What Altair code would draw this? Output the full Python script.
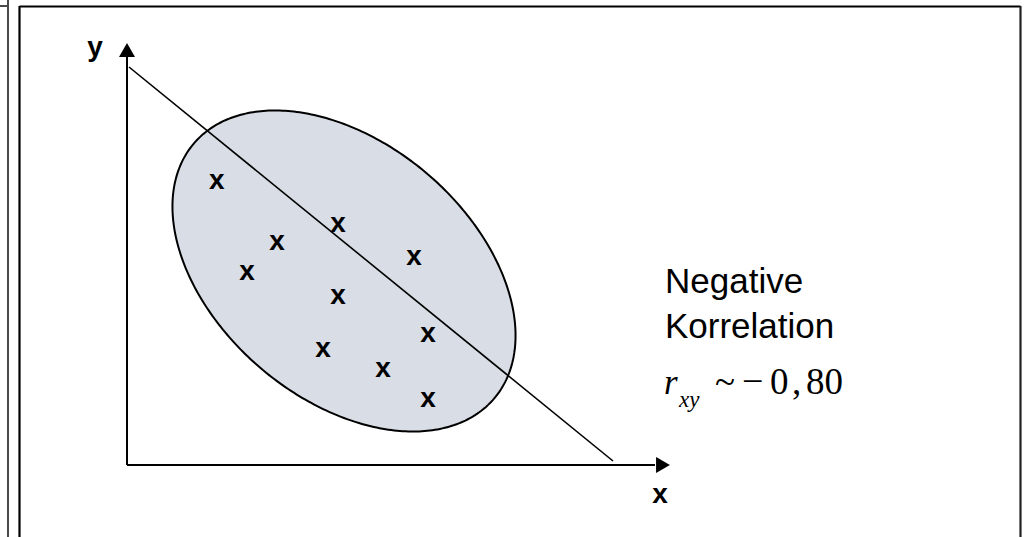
import altair as alt
import numpy as np
import pandas as pd

# Diagram units: origin at the axis corner, x to the right, y upwards (10 px per unit)
X_DOMAIN = [-12.7, 89.8]
Y_DOMAIN = [-7.2, 46.5]

# Observations drawn as "x" glyphs
obs_x = [8.97, 15.0, 12.0, 21.1, 28.7, 21.1, 30.1, 19.6, 25.6, 30.1]
obs_y = [28.33, 22.2, 19.2, 24.0, 20.7, 16.8, 13.0, 11.5, 9.5, 6.5]

# Regression line end points
line_x = [0.2, 48.6]
line_y = [39.8, 0.4]

# Axis extents and arrow-head positions
axis_x_end = 52.8
axis_y_end = 40.8
arrow_x = [53.6]
arrow_y = [41.5]

# Scatter ellipse: centre, semi-axes, tilt (degrees)
ell_center = (21.7, 19.4)
ell_axes = (19.7, 12.8)
ell_angle = -40.3

xs = alt.Scale(domain=X_DOMAIN, nice=False, zero=False)
ys = alt.Scale(domain=Y_DOMAIN, nice=False, zero=False)


def ellipse_band(center, axes, angle_deg, n=181):
    """Upper and lower boundary of a tilted ellipse for every x."""
    a, b = axes
    th = np.radians(angle_deg)
    c, s = np.cos(th), np.sin(th)
    sxx = a * a * c * c + b * b * s * s
    syy = a * a * s * s + b * b * c * c
    sxy = (a * a - b * b) * s * c
    det = sxx * syy - sxy * sxy
    q11, q22, q12 = syy / det, sxx / det, -sxy / det
    half = np.sqrt(sxx)
    dx = half * np.cos(np.linspace(np.pi, 0, n))
    disc = np.clip(q12 * q12 * dx * dx - q22 * (q11 * dx * dx - 1), 0, None)
    up = (-q12 * dx + np.sqrt(disc)) / q22
    lo = (-q12 * dx - np.sqrt(disc)) / q22
    return pd.DataFrame({"x": center[0] + dx, "y": center[1] + up, "y2": center[1] + lo})


ell_df = ellipse_band(ell_center, ell_axes, ell_angle)

ellipse = alt.Chart(ell_df).mark_area(
    fill="#d9dee6", stroke="#000000", strokeWidth=2
).encode(
    x=alt.X("x:Q", scale=xs, axis=None),
    y=alt.Y("y:Q", scale=ys, axis=None),
    y2="y2:Q",
)

obs_df = pd.DataFrame({"x": obs_x, "y": obs_y, "t": ["x"] * len(obs_x)})
markers = alt.Chart(obs_df).mark_text(
    font="Liberation Sans", fontWeight="bold", fontSize=28,
    align="center", baseline="middle", dy=-1, color="#000000"
).encode(
    x=alt.X("x:Q", scale=xs, axis=None),
    y=alt.Y("y:Q", scale=ys, axis=None),
    text="t:N",
)

reg_df = pd.DataFrame({"x": line_x, "y": line_y})
reg_line = alt.Chart(reg_df).mark_line(color="#000000", strokeWidth=1.6).encode(
    x=alt.X("x:Q", scale=xs, axis=None),
    y=alt.Y("y:Q", scale=ys, axis=None),
)

axes_df = pd.DataFrame({
    "x": [0.0, 0.0], "y": [0.0, 0.0],
    "x2": [axis_x_end, 0.0], "y2": [0.0, axis_y_end],
})
axis_lines = alt.Chart(axes_df).mark_rule(color="#000000", strokeWidth=2).encode(
    x=alt.X("x:Q", scale=xs, axis=None),
    y=alt.Y("y:Q", scale=ys, axis=None),
    x2="x2:Q",
    y2="y2:Q",
)

head_x = alt.Chart(pd.DataFrame({"x": arrow_x, "y": [0.0]})).mark_point(
    shape="triangle-right", filled=True, size=256, color="#000000", opacity=1
).encode(
    x=alt.X("x:Q", scale=xs, axis=None),
    y=alt.Y("y:Q", scale=ys, axis=None),
)
head_y = alt.Chart(pd.DataFrame({"x": [0.0], "y": arrow_y})).mark_point(
    shape="triangle-up", filled=True, size=256, color="#000000", opacity=1
).encode(
    x=alt.X("x:Q", scale=xs, axis=None),
    y=alt.Y("y:Q", scale=ys, axis=None),
)

one = alt.Data(values=[{}])


def label(text, x, y, **kw):
    return alt.Chart(one).mark_text(text=text, **kw).encode(
        x=alt.value(x), y=alt.value(y)
    )


axis_font = dict(font="Liberation Sans", fontWeight="bold", fontSize=28,
                 align="center", baseline="alphabetic", color="#000000")
label_y = label("y", 95, 56, **axis_font)
label_x = label("x", 660, 503, **axis_font)

sans = dict(font="Liberation Sans", fontSize=35, align="left",
            baseline="alphabetic", color="#000000")
neg = label("Negative", 665, 293, **sans)
korr = label("Korrelation", 665, 338, **sans)

# r_xy ~ −0,80 set piece by piece, like an equation
serif = dict(font="Liberation Serif", align="left", baseline="alphabetic",
             color="#000000")
r_sym = label("r", 664, 394, fontSize=35, fontStyle="italic", **serif)
r_sub = label("xy", 679, 407, fontSize=23, fontStyle="italic", **serif)
tilde = label("~", 715, 394, fontSize=37, **serif)
minus = label("\u2212", 742, 394, fontSize=38, **serif)
zero = label("0", 770, 394, fontSize=37, **serif)
comma = label(",", 792, 394, fontSize=37, **serif)
eighty = label("80", 806, 394, fontSize=37, **serif)


# Page frame lines
def rule(x, x2, y, y2, color, width):
    return alt.Chart(one).mark_rule(color=color, strokeWidth=width).encode(
        x=alt.value(x), x2=alt.value(x2), y=alt.value(y), y2=alt.value(y2)
    )


frame = [
    rule(8, 8, 0, 537, "#4a4a4a", 2),
    rule(0, 8, 6, 6, "#4a4a4a", 2),
    rule(19.5, 19.5, 6, 537, "#000000", 2.2),
    rule(19.5, 1020.5, 6.5, 6.5, "#000000", 2.2),
    rule(1020.5, 1020.5, 6, 537, "#222222", 2.2),
]

chart = alt.layer(
    *frame,
    ellipse,
    reg_line,
    axis_lines,
    head_x,
    head_y,
    markers,
    label_y,
    label_x,
    neg,
    korr,
    r_sym,
    r_sub,
    tilde,
    minus,
    zero,
    comma,
    eighty,
).properties(
    width=1025, height=537, padding=0, autosize="none", background="#ffffff"
).configure_view(stroke=None)

chart.save("out.html", embed_options={"renderer": "svg", "actions": False})
